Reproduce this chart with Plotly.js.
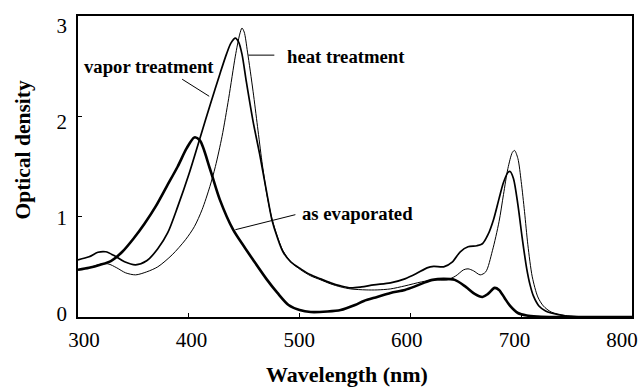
<!DOCTYPE html>
<html><head><meta charset="utf-8">
<script src="https://cdn.plot.ly/plotly-3.0.1.min.js"></script>
<style>html,body{margin:0;padding:0;background:#fff}#chart{width:642px;height:390px}</style>
</head><body><div id="chart"></div>
<script>
// ---- data ----
const evapWl = [300,310,320,330,340,350,360,370,380,390,398,405,410,419,428,440,450,458,470,480,490,500,510,525,537,550,558,570,582,595,603,612,620,630,640,650,658,665,670,676,680,685,690,697,705,715,730,800];
const evapOD = [0.47,0.49,0.52,0.56,0.65,0.78,0.93,1.10,1.30,1.50,1.68,1.79,1.76,1.48,1.17,0.87,0.70,0.57,0.38,0.24,0.12,0.07,0.05,0.055,0.07,0.12,0.16,0.20,0.24,0.27,0.30,0.34,0.37,0.38,0.37,0.30,0.23,0.20,0.23,0.29,0.27,0.19,0.11,0.04,0.015,0.005,0,0];

const vaporWl = [300,310,318,325,333,342,352,362,372,381,390,400,410,420,428,434,438,442,445,448,452,458,464,470,475,480,485,492,501,510,519,528,537,546,556,567,582,595,605,615,621,630,638,645,652,660,665,670,675,680,684,688,690,693,697,701,705,708,711,716,722,727,740,760,800];
const vaporOD = [0.57,0.60,0.645,0.65,0.61,0.55,0.52,0.56,0.68,0.84,1.10,1.42,1.78,2.14,2.42,2.62,2.73,2.78,2.74,2.62,2.34,1.95,1.62,1.26,0.97,0.79,0.65,0.55,0.48,0.42,0.38,0.34,0.31,0.29,0.30,0.32,0.34,0.38,0.43,0.49,0.505,0.50,0.55,0.65,0.70,0.71,0.73,0.82,0.97,1.18,1.34,1.44,1.45,1.38,1.12,0.78,0.48,0.32,0.21,0.11,0.06,0.04,0.01,0,0];

const heatWl = [300,310,318,327,335,343,352,362,372,385,397,405,412,419,424,430,436,442,446,448,450,453,458,462,466,470,475,480,485,492,501,510,519,528,537,546,560,570,582,595,610,621,633,641,648,652,657,663,668,674,680,684,688,692,694,697,700,703,706,710,715,720,727,740,760,800];
const heatOD = [0.47,0.49,0.52,0.53,0.49,0.44,0.42,0.45,0.50,0.62,0.77,0.90,1.07,1.30,1.50,1.80,2.18,2.60,2.82,2.88,2.84,2.64,2.25,1.90,1.55,1.25,0.98,0.80,0.66,0.55,0.47,0.41,0.37,0.33,0.30,0.28,0.27,0.27,0.28,0.31,0.35,0.37,0.37,0.41,0.47,0.48,0.46,0.42,0.45,0.66,0.95,1.22,1.48,1.64,1.66,1.58,1.35,1.05,0.72,0.40,0.20,0.11,0.05,0.015,0,0];

const xTicks = [300,400,500,600,700,800];
const yTicks = [0,1,2,3];
const xTitle = 'Wavelength (nm)';
const yTitle = 'Optical density';
const labelVapor = 'vapor treatment';
const labelHeat = 'heat treatment';
const labelEvap = 'as evaporated';

const serif = 'Liberation Serif, Times New Roman, serif';

function tr(x, y, w) {
  return {x: x, y: y, type: 'scatter', mode: 'lines', xaxis: 'x', yaxis: 'y',
    line: {color: '#000', width: w, shape: 'spline', smoothing: 0.8},
    hoverinfo: 'skip', showlegend: false};
}

const data = [
  tr(heatWl, heatOD, 1),
  tr(vaporWl, vaporOD, 1.7),
  tr(evapWl, evapOD, 2.6),
  {x: [], y: [], type: 'scatter', mode: 'lines', xaxis: 'x2', yaxis: 'y2', showlegend: false, hoverinfo: 'skip'}
];

const layout = {
  width: 642, height: 390,
  margin: {l: 78, r: 10, t: 16, b: 68, pad: 0},
  paper_bgcolor: '#fff', plot_bgcolor: '#fff',
  showlegend: false,
  font: {family: serif, color: '#000'},
  xaxis: {
    domain: [0, 1], anchor: 'y', range: [300, 800], fixedrange: true,
    tickvals: xTicks, showticklabels: false,
    ticks: 'inside', ticklen: 4, tickwidth: 1, tickcolor: '#000',
    showline: true, linewidth: 2, linecolor: '#000', mirror: true,
    showgrid: false, zeroline: false
  },
  yaxis: {
    domain: [5/306, 1], anchor: 'x', range: [0, 3], fixedrange: true,
    tickvals: yTicks, showticklabels: false,
    ticks: 'inside', ticklen: 4, tickwidth: 1, tickcolor: '#000',
    showline: true, linewidth: 2, linecolor: '#000', mirror: true,
    showgrid: false, zeroline: false
  },
  xaxis2: {
    overlaying: 'x', anchor: 'y', side: 'bottom', domain: [0, 1],
    range: [294.4, 809.3], fixedrange: true,
    tickvals: xTicks, ticktext: xTicks.map(String), ticks: '',
    showline: false, showgrid: false, zeroline: false,
    tickfont: {family: serif, size: 21, color: '#000'}, ticklabelstandoff: 8
  },
  yaxis2: {
    overlaying: 'y', anchor: 'x', side: 'left', domain: [0, 1],
    range: [-0.0358, 3.097], fixedrange: true,
    tickvals: yTicks, ticktext: yTicks.map(String), ticks: '',
    showline: false, showgrid: false, zeroline: false,
    tickfont: {family: serif, size: 21, color: '#000'}, ticklabelstandoff: 10
  },
  annotations: [
    {xref: 'x', yref: 'y', x: 364.2, y: 2.5, text: '<b>' + labelVapor + '</b>', showarrow: false,
     xanchor: 'center', yanchor: 'middle', font: {family: serif, size: 18.7, color: '#000'}},
    {xref: 'x', yref: 'y', x: 542.3, y: 2.595, text: '<b>' + labelHeat + '</b>', showarrow: false,
     xanchor: 'center', yanchor: 'middle', font: {family: serif, size: 18.7, color: '#000'}},
    {xref: 'x', yref: 'y', x: 552.7, y: 1.035, text: '<b>' + labelEvap + '</b>', showarrow: false,
     xanchor: 'center', yanchor: 'middle', font: {family: serif, size: 18.7, color: '#000'}},
    {xref: 'paper', yref: 'paper', x: (346.5 - 78) / 554, y: (322 - 374) / 306, text: '<b>' + xTitle + '</b>',
     showarrow: false, xanchor: 'center', yanchor: 'middle', font: {family: serif, size: 22, color: '#000'}},
    {xref: 'paper', yref: 'paper', x: (22 - 78) / 554, y: (322 - 150.5) / 306, text: '<b>' + yTitle + '</b>',
     textangle: -90, showarrow: false, xanchor: 'center', yanchor: 'middle', font: {family: serif, size: 21.5, color: '#000'}}
  ],
  shapes: [
    {type: 'line', xref: 'x', yref: 'y', x0: 394.0, y0: 2.37, x1: 418.4, y1: 2.20, line: {color: '#000', width: 1}},
    {type: 'line', xref: 'x', yref: 'y', x0: 453.7, y0: 2.61, x1: 477.2, y1: 2.61, line: {color: '#000', width: 1}},
    {type: 'line', xref: 'x', yref: 'y', x0: 442.0, y0: 0.87, x1: 496.2, y1: 1.02, line: {color: '#000', width: 1}}
  ]
};

Plotly.newPlot('chart', data, layout, {staticPlot: true, displayModeBar: false});
</script></body></html>
